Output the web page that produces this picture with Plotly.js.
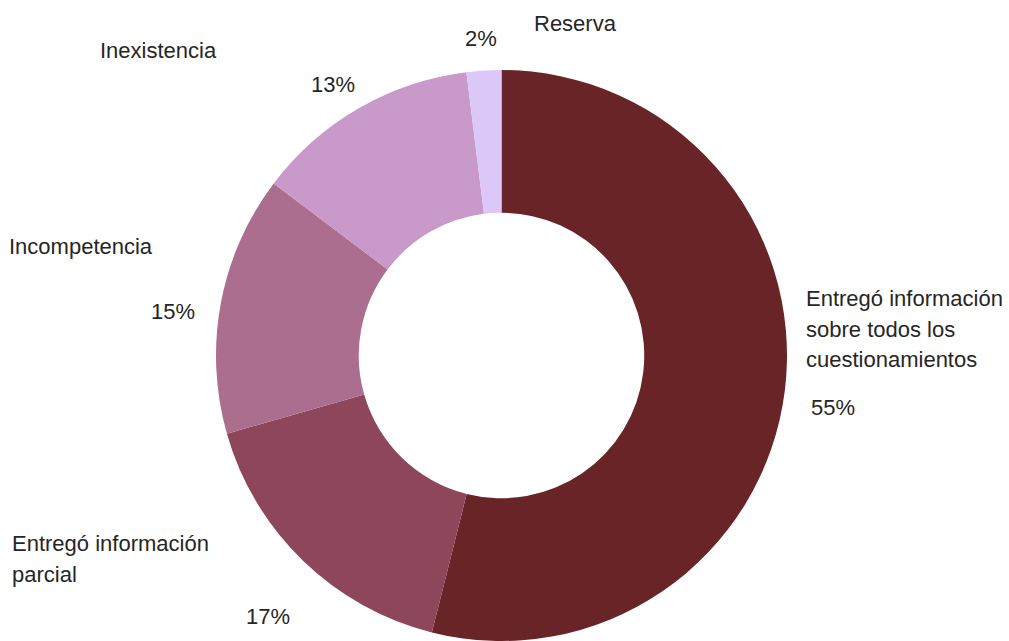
<!DOCTYPE html>
<html>
<head>
<meta charset="utf-8">
<script src="https://cdn.plot.ly/plotly-3.0.1.min.js"></script>
<style>html,body{margin:0;padding:0;background:#fff;}#chart{width:1009px;height:641px;}</style>
</head>
<body>
<div id="chart"></div>
<script>
// Data
const categories = ["Entregó información sobre todos los cuestionamientos", "Entregó información parcial", "Incompetencia", "Inexistencia", "Reserva"];
const values = [55, 17, 15, 13, 2];
const colors = ["#692427", "#8D465A", "#AC6E8F", "#C899C9", "#DCC8F8"];

// label line pieces (text only) and their placement in pixels
const labelLines = [
  ["Entregó información", "sobre todos los", "cuestionamientos"],
  ["Entregó información", "parcial"],
  ["Incompetencia"],
  ["Inexistencia"],
  ["Reserva"]
];
const labelPos = [ // [left x, first line center y, line gap]
  [806, 297.5, 30.5],
  [12, 542.5, 31],
  [9, 245.5, 0],
  [100, 49, 0],
  [534, 22.5, 0]
];
const pctPos = [[811, 406], [246, 615], [151, 310], [311, 84], [465, 38]];

const W = 1009, H = 641;
const px = x => x / W;
const py = y => 1 - y / H;
const font = {family: "Liberation Sans, Arial, sans-serif", size: 22, color: "#262626"};

const annotations = [];
categories.forEach((c, i) => {
  labelLines[i].forEach((t, j) => {
    annotations.push({
      text: t, xref: "paper", yref: "paper",
      x: px(labelPos[i][0] - 2), y: py(labelPos[i][1] + j * labelPos[i][2] + 1),
      xanchor: "left", yanchor: "middle", showarrow: false, font: font
    });
  });
  annotations.push({
    text: values[i] + "%", xref: "paper", yref: "paper",
    x: px(pctPos[i][0] - 2), y: py(pctPos[i][1] + 1),
    xanchor: "left", yanchor: "middle", showarrow: false, font: font
  });
});

const trace = {
  type: "pie",
  labels: categories,
  values: values,
  hole: 0.5,
  sort: false,
  direction: "clockwise",
  rotation: 0,
  textinfo: "none",
  hoverinfo: "label+percent",
  marker: {colors: colors, line: {width: 0}},
  domain: {x: [215 / W, 788 / W], y: [0, 1 - 70 / H]}
};

Plotly.newPlot("chart", [trace], {
  width: W, height: H,
  margin: {l: 0, r: 0, t: 0, b: 0},
  showlegend: false,
  paper_bgcolor: "#ffffff",
  annotations: annotations
}, {displayModeBar: false, staticPlot: true});
</script>
</body>
</html>
